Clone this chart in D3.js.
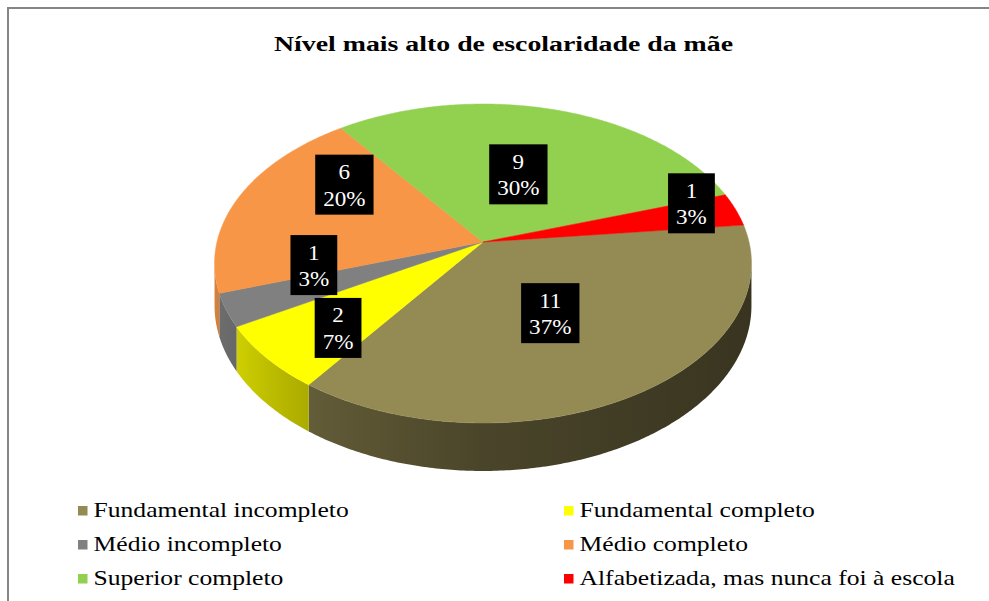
<!DOCTYPE html>
<html>
<head>
<meta charset="utf-8">
<script src="https://cdnjs.cloudflare.com/ajax/libs/d3/7.8.5/d3.min.js"></script>
<style>
    body { margin: 0; background: #ffffff; }
</style>
</head>
<body>
<svg id="chart" width="989" height="601"></svg>
<script>
// chart data
var chartTitle = 'Nível mais alto de escolaridade da mãe';
var categories = ['Fundamental incompleto', 'Fundamental completo', 'Médio incompleto',
                  'Médio completo', 'Superior completo', 'Alfabetizada, mas nunca foi à escola'];
var counts = [11, 2, 1, 6, 9, 1];
var colors = ['#948a54', '#ffff00', '#808080', '#f79646', '#92d050', '#ff0000'];

// label placement (fraction of radius + turn in degrees from the slice middle)
var labelRadius = [0.49, 0.72, 0.64, 0.67, 0.48, 0.85];
var labelTurn = [1.2, -2.9, 11.25, 17.4, -0.6, -5.2];

var serif = 'Liberation Serif';

var svg = d3.select('#chart');
var defs = svg.append('defs');

// frame of the chart area
svg.append('path')
    .attr('d', 'M8,601V8H989')
    .attr('fill', 'none')
    .attr('stroke', '#858585')
    .attr('stroke-width', 2);

// 3d pie geometry
var cx = 483, cy = 242;      // pie centre on screen
var rx = 266, ry = 156.6;    // half axes of the disc
var persp = 0.1348;          // perspective factor (front grows)
var depth = 41.5;            // thickness of the disc
var firstAngle = 83.7 * Math.PI / 180;

var pie = d3.pie()
    .sort(null)
    .value(function(d) { return d; })
    .startAngle(firstAngle)
    .endAngle(firstAngle + 2 * Math.PI);
var slices = pie(counts);
var total = d3.sum(counts);
var pctFormat = d3.format('.0%');

// disc point -> screen point
function project(a, r, h) {
    var u = r * Math.sin(a), v = -r * Math.cos(a);
    var s = 1 / (1 - persp * v);
    return [cx + rx * u * s, cy + ry * v * s + (h || 0) * s];
}
function arcPoints(a0, a1, r, h) {
    var n = Math.max(2, Math.ceil(Math.abs(a1 - a0) / 0.01));
    return d3.range(n + 1).map(function(i) { return project(a0 + (a1 - a0) * i / n, r, h); });
}
var line = d3.line();

// side is visible between the two silhouette points
var sideFrom = Math.acos(-persp), sideTo = 2 * Math.PI - sideFrom;

// shading of the side, light on the left, dark on the right
var shadeScale = d3.scaleLinear()
    .domain([0, 0.05, 0.18, 0.5, 1])
    .range([0.86, 0.8, 0.66, 0.5, 0.38]);

slices.forEach(function(d, i) {
    var g = defs.append('linearGradient')
        .attr('id', 'side-' + i)
        .attr('gradientUnits', 'userSpaceOnUse')
        .attr('x1', cx - rx * 1.01).attr('x2', cx + rx * 1.01)
        .attr('y1', 0).attr('y2', 0);
    var c = d3.rgb(colors[i]);
    d3.range(0, 1.001, 0.05).forEach(function(t) {
        var f = shadeScale(t);
        g.append('stop')
            .attr('offset', t)
            .attr('stop-color', d3.rgb(c.r * f, c.g * f, c.b * f).formatHex());
    });
});

// sides
var sideG = svg.append('g');
slices.forEach(function(d, i) {
    [0, 2 * Math.PI].forEach(function(off) {
        var a0 = Math.max(d.startAngle, sideFrom + off);
        var a1 = Math.min(d.endAngle, sideTo + off);
        if (a1 <= a0) return;
        var pts = arcPoints(a0, a1, 1, 0).concat(arcPoints(a1, a0, 1, depth));
        sideG.append('path')
            .attr('d', line(pts) + 'Z')
            .attr('fill', 'url(#side-' + i + ')');
    });
});

// top faces
svg.append('g').selectAll('path')
    .data(slices)
    .enter()
    .append('path')
    .attr('d', function(d) {
        return line([project(0, 0, 0)].concat(arcPoints(d.startAngle, d.endAngle, 1, 0))) + 'Z';
    })
    .attr('fill', function(d, i) { return colors[i]; })
    .attr('stroke', function(d, i) { return colors[i]; })
    .attr('stroke-width', 0.5);

// data labels (count + percent in black boxes)
var labelStretch = 1.1;
var labelG = svg.append('g').selectAll('g')
    .data(slices)
    .enter()
    .append('g')
    .attr('transform', function(d, i) {
        var a = (d.startAngle + d.endAngle) / 2 + labelTurn[i] * Math.PI / 180;
        var p = project(a, labelRadius[i], 0);
        return 'translate(' + p[0] + ',' + p[1] + ')';
    });
var labelRect = labelG.append('rect').attr('fill', '#000000');
var labelText = labelG.append('text')
    .attr('transform', 'scale(' + labelStretch + ',1)')
    .attr('text-anchor', 'middle')
    .attr('fill', '#ffffff')
    .attr('font-family', serif)
    .attr('font-size', 21);
labelText.append('tspan').attr('x', 0).attr('y', -5.5).text(function(d) { return d.data; });
labelText.append('tspan').attr('x', 0).attr('y', 21).text(function(d) { return pctFormat(d.data / total); });
labelRect.each(function() {
    var w = d3.select(this.parentNode).select('text').node().getBBox().width * labelStretch + 16;
    d3.select(this)
        .attr('x', -w / 2).attr('y', -30)
        .attr('width', w).attr('height', 60);
});

// title
svg.append('g')
    .attr('transform', 'translate(503.5,50.7) scale(1.265,1)')
    .append('text')
    .attr('text-anchor', 'middle')
    .attr('font-family', serif)
    .attr('font-size', 22)
    .attr('font-weight', 'bold')
    .text(chartTitle);

// legend, two columns
var legendX = [78, 564], legendY = [511, 545, 579];
var legend = svg.append('g').selectAll('g')
    .data(categories)
    .enter()
    .append('g')
    .attr('transform', function(d, i) {
        return 'translate(' + legendX[i % 2] + ',' + legendY[Math.floor(i / 2)] + ')';
    });
legend.append('rect')
    .attr('x', 0).attr('y', -5)
    .attr('width', 9.5).attr('height', 9.5)
    .attr('fill', function(d, i) { return colors[i]; });
legend.append('text')
    .attr('transform', 'translate(15.5,5.5) scale(1.22,1)')
    .attr('font-family', serif)
    .attr('font-size', 21)
    .attr('fill', '#000000')
    .text(function(d) { return d; });
</script>
</body>
</html>
